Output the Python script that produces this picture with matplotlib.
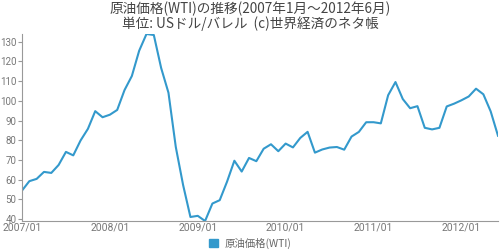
import matplotlib
matplotlib.use("Agg")
import matplotlib.pyplot as plt
import numpy as np

plt.rcParams['font.family'] = ['Noto Sans CJK JP', 'DejaVu Sans']

months = [f"{y}/{m:02d}" for y in range(2007, 2013) for m in range(1, 13)][:66]
prices = [54.51, 59.28, 60.44, 63.98, 63.46, 67.49, 74.12, 72.36, 79.92, 85.80, 94.77, 91.69,
          92.97, 95.39, 105.45, 112.58, 125.40, 133.88, 133.37, 116.67, 104.11, 76.61, 57.31, 41.12,
          41.71, 39.09, 47.94, 49.65, 59.03, 69.64, 64.15, 71.05, 69.41, 75.72, 77.99, 74.47,
          78.33, 76.39, 81.20, 84.29, 73.74, 75.34, 76.32, 76.60, 75.24, 81.89, 84.25, 89.15,
          89.17, 88.58, 102.86, 109.53, 100.90, 96.26, 97.30, 86.33, 85.52, 86.32, 97.16, 98.56,
          100.27, 102.20, 106.16, 103.32, 94.65, 82.30]
yticks = list(range(40, 131, 10))
xtick_labels = ["2007/01", "2008/01", "2009/01", "2010/01", "2011/01", "2012/01"]
title = "原油価格(WTI)の推移(2007年1月～2012年6月)\n単位: USドル/バレル  (c)世界経済のネタ帳"
series_name = "原油価格(WTI)"

color = "#3399cc"
fig = plt.figure(figsize=(5, 2.5), dpi=100)
ax = fig.add_axes([0.044, 0.116, 0.952, 0.748])
x = np.arange(len(prices))
ax.plot(x, prices, color=color, lw=1.5, solid_joinstyle='round')
ax.set_xlim(0, len(prices) - 1)
ax.set_ylim(min(prices), max(prices))
ax.set_yticks(yticks)
ax.set_yticklabels([str(v) for v in yticks])
xt = [months.index(l) for l in xtick_labels]
ax.set_xticks(xt)
ax.set_xticklabels(xtick_labels)
for s in ['top', 'right']:
    ax.spines[s].set_visible(False)
for s in ['left', 'bottom']:
    ax.spines[s].set_color('#999999')
    ax.spines[s].set_linewidth(0.8)
ax.tick_params(axis='y', length=3, width=0.8, color='#999999', labelsize=7, labelcolor='#777777', pad=1)
ax.tick_params(axis='x', length=0, labelsize=7.5, labelcolor='#777777', pad=1)
for lab in ax.get_xticklabels() + ax.get_yticklabels():
    lab.set_family(['Roboto', 'DejaVu Sans'])

fig.text(0.5, 0.935, title, ha='center', va='center', fontsize=9.8, color='#444444', linespacing=0.95)

from matplotlib.patches import Patch
fig.legend(handles=[Patch(facecolor=color, edgecolor=color, label=series_name)],
           loc='center', bbox_to_anchor=(0.5, 0.027), frameon=False, fontsize=7.5,
           labelcolor='#666666', handlelength=0.9, handleheight=0.9, handletextpad=0.6,
           borderaxespad=0, borderpad=0)

fig.savefig("out.png", dpi=100)
